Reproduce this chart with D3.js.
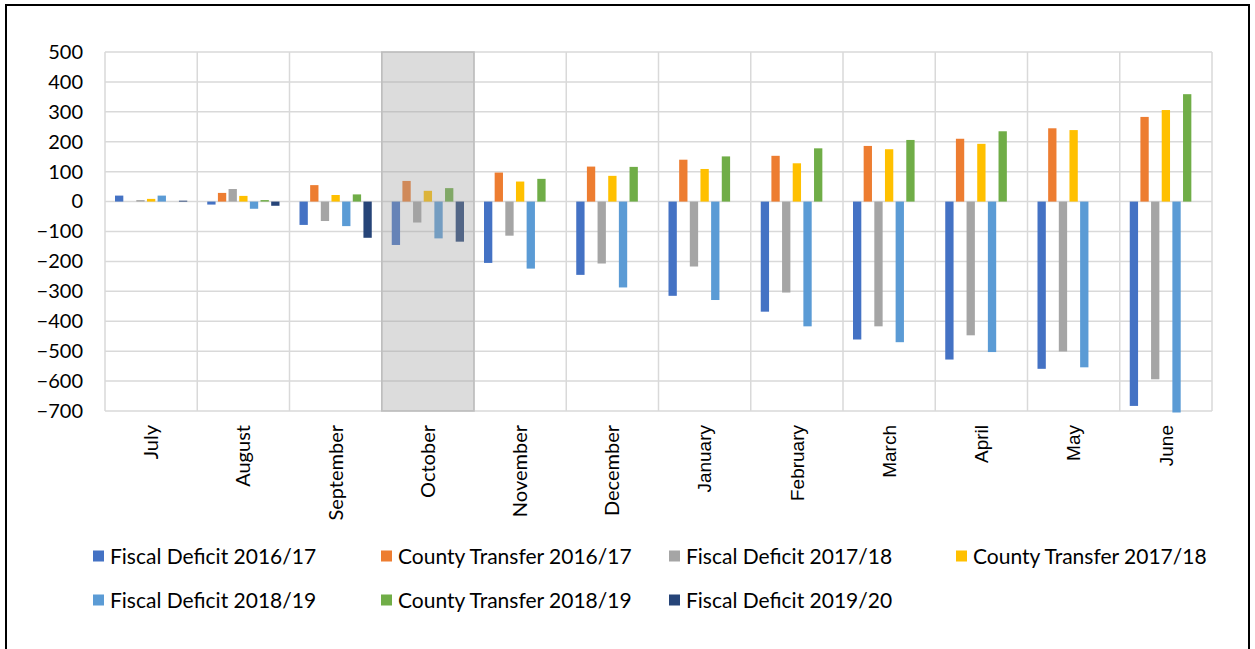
<!DOCTYPE html>
<html>
<head>
<meta charset="utf-8">
<script src="https://cdn.jsdelivr.net/npm/d3@7"></script>
<style>
  body { margin: 0; background: #fff; }
  svg { display: block; }
</style>
</head>
<body>
<div id="chart"></div>
<script>
// categories
var months = ["July", "August", "September", "October", "November", "December",
              "January", "February", "March", "April", "May", "June"];

// series values
var fiscalDeficit1617 = [20, -10, -78, -145, -205, -245, -315, -368, -461, -528, -559, -683];
var countyTransfer1617 = [null, 29, 55, 69, 97, 117, 140, 153, 186, 210, 245, 283];
var fiscalDeficit1718 = [5, 42, -65, -70, -114, -207, -217, -304, -417, -447, -501, -594];
var countyTransfer1718 = [9, 19, 22, 36, 67, 86, 109, 128, 175, 193, 239, 306];
var fiscalDeficit1819 = [20, -24, -82, -123, -224, -287, -329, -417, -470, -503, -554, -705];
var countyTransfer1819 = [null, 5, 24, 45, 76, 116, 151, 178, 206, 235, null, 359];
var fiscalDeficit1920 = [3, -14, -121, -134, null, null, null, null, null, null, null, null];

var seriesNames = ["Fiscal Deficit 2016/17", "County Transfer 2016/17", "Fiscal Deficit 2017/18",
                   "County Transfer 2017/18", "Fiscal Deficit 2018/19", "County Transfer 2018/19",
                   "Fiscal Deficit 2019/20"];
var seriesValues = [fiscalDeficit1617, countyTransfer1617, fiscalDeficit1718, countyTransfer1718,
                    fiscalDeficit1819, countyTransfer1819, fiscalDeficit1920];
var seriesColors = ["#4472C4", "#ED7D31", "#A5A5A5", "#FFC000", "#5B9BD5", "#70AD47", "#264478"];

// y tick labels
var yTicks = [500, 400, 300, 200, 100, 0, -100, -200, -300, -400, -500, -600, -700];

// highlighted month
var highlightMonth = "October";

var W = 1255, H = 649;
var plot = {left: 105, right: 1212, top: 52, bottom: 411};

var svg = d3.select("#chart").append("svg")
    .attr("width", W)
    .attr("height", H);

// outer frame
svg.append("rect")
    .attr("x", 6).attr("y", 5)
    .attr("width", 1243).attr("height", 720)
    .attr("fill", "#fff")
    .attr("stroke", "#000")
    .attr("stroke-width", 2);

var x = d3.scaleBand()
    .domain(months)
    .range([plot.left, plot.right])
    .paddingInner(0).paddingOuter(0);

var xs = d3.scaleBand()
    .domain(seriesNames)
    .range([x.bandwidth() * 0.083, x.bandwidth() * 0.917])
    .padding(0.22);

var y = d3.scaleLinear()
    .domain([-700, 500])
    .range([plot.bottom, plot.top]);

// horizontal grid
svg.append("g")
    .selectAll("line")
    .data(yTicks)
  .enter().append("line")
    .attr("x1", plot.left).attr("x2", plot.right)
    .attr("y1", d => y(d)).attr("y2", d => y(d))
    .attr("stroke", "#D9D9D9")
    .attr("stroke-width", 1.5);

// vertical grid at category boundaries
var bounds = months.map(m => x(m)).concat([plot.right]);
svg.append("g")
    .selectAll("line")
    .data(bounds)
  .enter().append("line")
    .attr("x1", d => d).attr("x2", d => d)
    .attr("y1", plot.top).attr("y2", plot.bottom)
    .attr("stroke", "#D9D9D9")
    .attr("stroke-width", 1.5);

// bars
var groups = svg.append("g").selectAll("g")
    .data(seriesNames)
  .enter().append("g")
    .attr("fill", (d, i) => seriesColors[i]);

groups.selectAll("rect")
    .data((d, i) => months.map((m, j) => ({month: m, series: d, v: seriesValues[i][j]}))
                          .filter(p => p.v !== null))
  .enter().append("rect")
    .attr("x", d => x(d.month) + xs(d.series))
    .attr("width", xs.bandwidth())
    .attr("y", d => y(Math.max(0, d.v)))
    .attr("height", d => Math.abs(y(d.v) - y(0)));

// shaded month, drawn on top so the bars look muted
svg.append("rect")
    .attr("x", x(highlightMonth))
    .attr("y", plot.top)
    .attr("width", x.bandwidth())
    .attr("height", plot.bottom - plot.top)
    .attr("fill", "rgb(160,160,160)")
    .attr("fill-opacity", 0.37)
    .attr("stroke", "rgb(190,190,190)")
    .attr("stroke-width", 1.5);

// y axis labels
var yAxis = svg.append("g")
    .attr("transform", "translate(" + (plot.left - 22) + ",0)")
    .call(d3.axisLeft(y).tickValues(yTicks).tickSize(0).tickPadding(0));
yAxis.select(".domain").remove();
yAxis.selectAll("text")
    .attr("font-family", "Lato, sans-serif")
    .attr("font-size", "20px")
    .attr("fill", "#000");

// month labels, rotated
svg.append("g")
    .selectAll("text")
    .data(months)
  .enter().append("text")
    .attr("transform", d => "translate(" + (x(d) + x.bandwidth() / 2) + ",425) rotate(-90)")
    .attr("text-anchor", "end")
    .attr("dy", "0.35em")
    .attr("font-family", (d, i) => i < 6 ? "Lato, sans-serif" : "'Liberation Sans', Arial, sans-serif")
    .attr("font-size", (d, i) => i < 6 ? "20px" : "19px")
    .attr("fill", "#000")
    .text(d => d);

// legend
var legendCols = [93, 381, 669, 956];
var legendRows = [556, 600];
var legend = svg.append("g").selectAll("g")
    .data(seriesNames)
  .enter().append("g")
    .attr("transform", (d, i) => "translate(" + legendCols[i % 4] + "," + legendRows[Math.floor(i / 4)] + ")");

legend.append("rect")
    .attr("x", 0).attr("y", -5.5)
    .attr("width", 11).attr("height", 11)
    .attr("fill", (d, i) => seriesColors[i]);

legend.append("text")
    .attr("x", 17)
    .attr("dy", "0.36em")
    .attr("font-family", "Lato, sans-serif")
    .attr("font-size", "21px")
    .attr("fill", "#000")
    .text(d => d);
</script>
</body>
</html>
